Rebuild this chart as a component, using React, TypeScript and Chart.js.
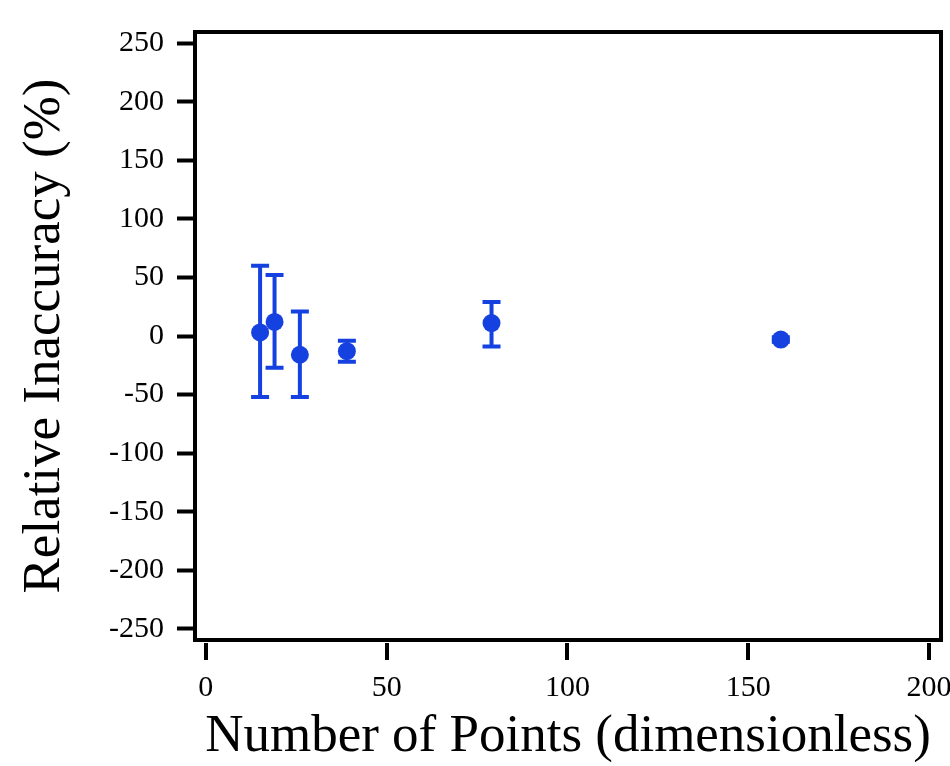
import React, { useEffect, useRef } from 'react';
import { Chart, registerables } from 'chart.js';

Chart.register(...registerables);

// ---- data ----
const pointCounts = [15, 19, 26, 39, 79, 159];
const inaccuracy = [3, 12, -16, -13, 11, -3];
const upperBound = [60, 52, 21, -4, 29, -1];
const lowerBound = [-52, -27, -52, -22, -9, -5];
const xTicks = [0, 50, 100, 150, 200];
const yTicks = [-250, -200, -150, -100, -50, 0, 50, 100, 150, 200, 250];

const BLUE = '#1541e0';
const FONT = "'Liberation Serif', 'Times New Roman', serif";

const errorBarPlugin = {
  id: 'errorBars',
  beforeDatasetsDraw(chart: any) {
    const { ctx, scales } = chart;
    const x = scales.x;
    const y = scales.y;
    ctx.save();
    ctx.strokeStyle = BLUE;
    ctx.lineWidth = 4;
    ctx.lineCap = 'butt';
    for (let i = 0; i < pointCounts.length; i++) {
      const px = x.getPixelForValue(pointCounts[i]);
      const hi = y.getPixelForValue(upperBound[i]);
      const lo = y.getPixelForValue(lowerBound[i]);
      ctx.beginPath();
      ctx.moveTo(px, hi);
      ctx.lineTo(px, lo);
      ctx.moveTo(px - 9, hi);
      ctx.lineTo(px + 9, hi);
      ctx.moveTo(px - 9, lo);
      ctx.lineTo(px + 9, lo);
      ctx.stroke();
    }
    ctx.restore();
  },
};

const framePlugin = {
  id: 'frame',
  afterDraw(chart: any) {
    const { ctx, chartArea, scales } = chart;
    const { left, top, right, bottom } = chartArea;
    ctx.save();
    ctx.strokeStyle = '#000';
    ctx.lineWidth = 4;
    ctx.strokeRect(left, top, right - left, bottom - top);
    // detached x-axis tick marks
    const x = scales.x;
    ctx.beginPath();
    for (const v of xTicks) {
      const px = Math.round(x.getPixelForValue(v));
      ctx.moveTo(px, bottom + 3);
      ctx.lineTo(px, bottom + 20);
    }
    ctx.stroke();
    ctx.restore();
  },
};

export default function App() {
  const canvasRef = useRef<HTMLCanvasElement | null>(null);

  useEffect(() => {
    document.body.style.margin = '0';
    const canvas = canvasRef.current;
    if (!canvas) return;
    const chart = new Chart(canvas, {
      type: 'scatter',
      data: {
        datasets: [
          {
            data: pointCounts.map((v, i) => ({ x: v, y: inaccuracy[i] })),
            backgroundColor: BLUE,
            borderColor: BLUE,
            borderWidth: 0,
            pointRadius: 9,
            pointHoverRadius: 9,
          },
        ],
      },
      options: {
        responsive: false,
        animation: false,
        devicePixelRatio: 1,
        layout: { padding: { top: 32, right: 3, left: 0, bottom: 0 } },
        plugins: {
          legend: { display: false },
          tooltip: { enabled: false },
        },
        scales: {
          x: {
            type: 'linear',
            min: -3,
            max: 203.3,
            grid: { display: false, drawTicks: false },
            border: { display: false },
            ticks: {
              color: '#000',
              font: { family: FONT, size: 30 },
              padding: 30.5,
              maxRotation: 0,
            },
            afterBuildTicks: (s: any) => {
              s.ticks = xTicks.map((v) => ({ value: v }));
            },
            afterFit: (s: any) => {
              s.height = 126;
              s.paddingLeft = 0;
              s.paddingRight = 0;
            },
            title: {
              display: true,
              text: 'Number of Points (dimensionless)',
              color: '#000',
              font: { family: FONT, size: 53, lineHeight: 1 },
              padding: { top: 0, bottom: 2.5 },
            },
          },
          y: {
            type: 'linear',
            min: -259.5,
            max: 259.5,
            grid: {
              display: true,
              drawOnChartArea: false,
              drawTicks: true,
              tickLength: 18,
              tickWidth: 4,
              tickColor: '#000',
            },
            border: { display: false },
            ticks: {
              color: '#000',
              font: { family: FONT, size: 30 },
              padding: 13,
            },
            afterBuildTicks: (s: any) => {
              s.ticks = yTicks.map((v) => ({ value: v }));
            },
            afterFit: (s: any) => {
              s.width = 195;
              s.paddingTop = 0;
              s.paddingBottom = 0;
            },
            title: {
              display: true,
              text: 'Relative Inaccuracy (%)',
              color: '#000',
              font: { family: FONT, size: 53, lineHeight: 1 },
              padding: { top: 18.5, bottom: 0 },
            },
          },
        },
      },
      plugins: [errorBarPlugin, framePlugin],
    });
    return () => chart.destroy();
  }, []);

  return (
    <div style={{ width: 950, height: 766, background: '#fff' }}>
      <canvas ref={canvasRef} width={950} height={766} style={{ display: 'block', width: 950, height: 766 }} />
    </div>
  );
}
